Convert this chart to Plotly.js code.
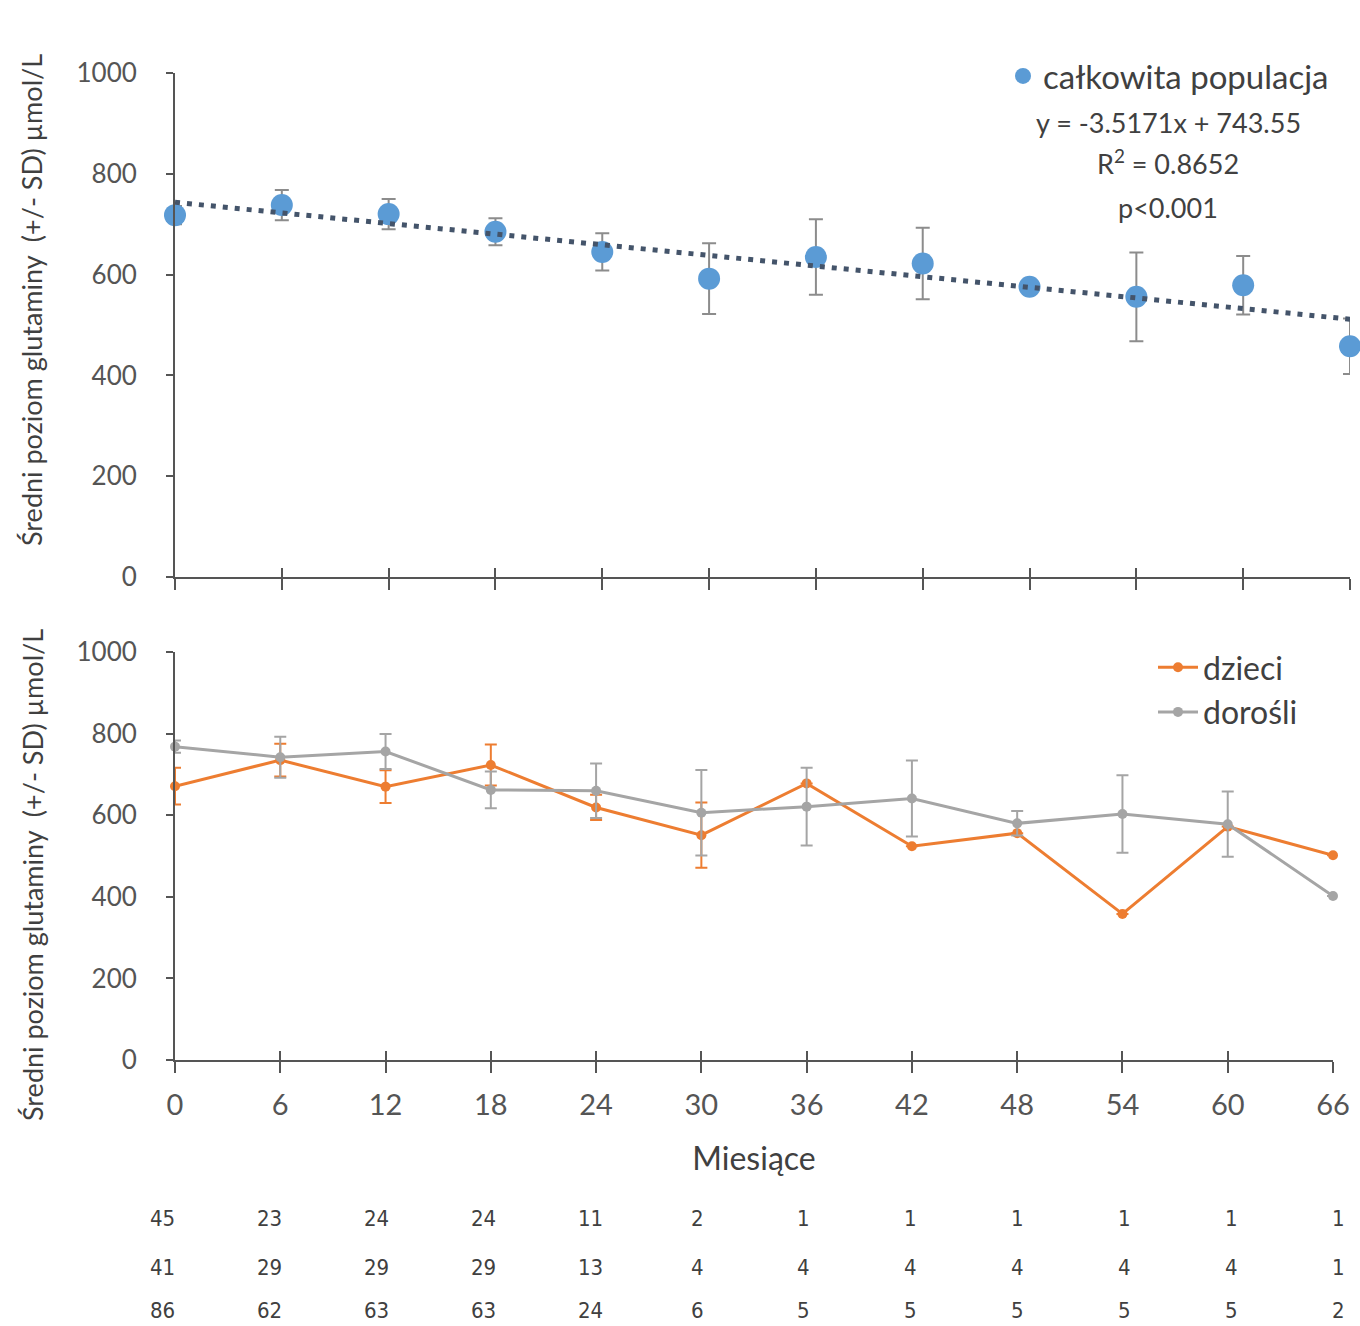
<!DOCTYPE html>
<html>
<head>
<meta charset="utf-8">
<script src="https://cdn.plot.ly/plotly-3.0.1.min.js"></script>
<style>
  html, body { margin: 0; padding: 0; background: #ffffff; }
  #chart { width: 1360px; height: 1326px; }
</style>
</head>
<body>
<div id="chart"></div>
<script>
// Months of follow-up
const months = [0, 6, 12, 18, 24, 30, 36, 42, 48, 54, 60, 66];

// Whole population: mean glutamine level and SD (µmol/L)
const totalMean = [718, 738, 720, 685, 645, 592, 635, 622, 576, 556, 579, 458];
const totalSD   = [18, 30, 30, 27, 37, 70, 75, 71, 10, 88, 58, 55];

// Children
const childMean = [671, 735, 670, 723, 619, 551, 678, 524, 556, 358, 572, 502];
const childSD   = [45, 40, 40, 50, 31, 80, 0, 0, 0, 0, 0, 0];

// Adults
const adultMean = [768, 742, 756, 662, 660, 606, 621, 641, 580, 603, 578, 402];
const adultSD   = [15, 50, 43, 45, 67, 105, 95, 93, 30, 95, 80, 0];

// Patients per time point: children, adults, total
const nChildren = [45, 23, 24, 24, 11, 2, 1, 1, 1, 1, 1, 1];
const nAdults   = [41, 29, 29, 29, 13, 4, 4, 4, 4, 4, 4, 1];
const nTotal    = [86, 62, 63, 63, 24, 6, 5, 5, 5, 5, 5, 2];

// Linear trend of the whole population
const trendSlope = -3.5171;
const trendIntercept = 743.55;
const trendLabel = ['y = -3.5171x + 743.55', 'R<sup>2</sup> = 0.8652', 'p<0.001'];

const yTitle = 'Średni poziom glutaminy  (+/- SD) µmol/L';
const xTitle = 'Miesiące';

const W = 1360, H = 1326;
const px = v => v / W;           // horizontal pixel -> paper
const py = v => 1 - v / H;       // vertical pixel (from top) -> paper

const axisCol = '#555555';
const textCol = '#404040';
const FONT = 'Lato, "Open Sans", sans-serif';

const trendX = [months[0], months[months.length - 1]];
const trendY = trendX.map(m => trendSlope * m + trendIntercept);

const traces = [
  {
    x: months, y: totalMean, type: 'scatter', mode: 'markers',
    name: 'całkowita populacja', xaxis: 'x', yaxis: 'y', legend: 'legend',
    marker: { color: '#5B9BD5', size: 22 },
    error_y: { type: 'data', array: totalSD, visible: true, color: '#8c8c8c', thickness: 2, width: 7 },
    cliponaxis: false
  },
  {
    x: trendX, y: trendY, type: 'scatter', mode: 'lines',
    xaxis: 'x', yaxis: 'y', showlegend: false, hoverinfo: 'skip',
    line: { color: '#44546A', width: 5, dash: '5px,7px' },
    cliponaxis: false
  },
  {
    x: months, y: childMean, type: 'scatter', mode: 'lines+markers',
    name: 'dzieci', xaxis: 'x2', yaxis: 'y2', legend: 'legend2',
    line: { color: '#ED7D31', width: 3 },
    marker: { color: '#ED7D31', size: 10 },
    error_y: { type: 'data', array: childSD, visible: true, color: '#ED7D31', thickness: 2, width: 6 },
    cliponaxis: false
  },
  {
    x: months, y: adultMean, type: 'scatter', mode: 'lines+markers',
    name: 'dorośli', xaxis: 'x2', yaxis: 'y2', legend: 'legend2',
    line: { color: '#A5A5A5', width: 3 },
    marker: { color: '#A5A5A5', size: 10 },
    error_y: { type: 'data', array: adultSD, visible: true, color: '#A5A5A5', thickness: 2, width: 6 },
    cliponaxis: false
  },
  // invisible helpers so the inner-tick overlay axes get drawn
  { x: [months[0]], y: [0], xaxis: 'x3', yaxis: 'y', mode: 'markers', marker: { opacity: 0 }, showlegend: false, hoverinfo: 'skip' },
  { x: [months[0]], y: [0], xaxis: 'x4', yaxis: 'y2', mode: 'markers', marker: { opacity: 0 }, showlegend: false, hoverinfo: 'skip' }
];

const topXDomain = [px(175), px(1350)];
const botXDomain = [px(175), px(1333)];

const baseX = {
  range: [0, 66], tickmode: 'array', tickvals: months, ticktext: months.map(String),
  showgrid: false, zeroline: false, showline: true, linecolor: axisCol, linewidth: 2,
  ticks: 'outside', ticklen: 11, tickwidth: 2, tickcolor: axisCol
};
const innerX = {
  range: [0, 66], tickmode: 'array', tickvals: months,
  showgrid: false, zeroline: false, showline: false, showticklabels: false,
  ticks: 'inside', ticklen: 9, tickwidth: 2, tickcolor: axisCol
};
const baseY = {
  range: [0, 1000], tickvals: [0, 200, 400, 600, 800, 1000],
  showgrid: false, zeroline: false, showline: true, linecolor: axisCol, linewidth: 2,
  ticks: 'outside', ticklen: 7, tickwidth: 2, tickcolor: axisCol,
  tickfont: { family: FONT, size: 26, color: axisCol }, ticklabelstandoff: 24
};

const annotations = [];
trendLabel.forEach((t, i) => {
  annotations.push({
    xref: 'paper', yref: 'paper', x: px(1168), y: py([122, 162, 207][i]),
    text: t, showarrow: false, xanchor: 'center', yanchor: 'middle',
    font: { family: FONT, size: 27, color: textCol }
  });
});
[[300, yTitle], [875, yTitle]].forEach(([yc, t]) => {
  annotations.push({
    xref: 'paper', yref: 'paper', x: px(32), y: py(yc), text: t, textangle: -90,
    showarrow: false, xanchor: 'center', yanchor: 'middle',
    font: { family: FONT, size: 27, color: textCol }
  });
});
[[nChildren, 1218], [nAdults, 1267], [nTotal, 1310]].forEach(([row, yPix]) => {
  row.forEach((n, i) => {
    annotations.push({
      xref: 'x', yref: 'paper', x: months[i], y: py(yPix), xshift: -12,
      text: String(n), showarrow: false, xanchor: 'center', yanchor: 'middle',
      font: { family: '"Liberation Sans Narrow", "DejaVu Sans Condensed", sans-serif', size: 22, color: textCol }
    });
  });
});

const layout = {
  width: W, height: H,
  margin: { l: 0, r: 0, t: 0, b: 0 },
  paper_bgcolor: '#ffffff', plot_bgcolor: 'rgba(0,0,0,0)',
  font: { family: FONT, color: textCol },
  showlegend: true,
  xaxis: Object.assign({}, baseX, { domain: topXDomain, anchor: 'y', showticklabels: false }),
  xaxis3: Object.assign({}, innerX, { domain: topXDomain, anchor: 'y', overlaying: 'x' }),
  yaxis: Object.assign({}, baseY, { domain: [py(577), py(73)], anchor: 'x' }),
  xaxis2: Object.assign({}, baseX, {
    domain: botXDomain, anchor: 'y2',
    tickfont: { family: FONT, size: 29, color: axisCol }, ticklabelstandoff: 7,
    title: { text: xTitle, font: { family: FONT, size: 32, color: textCol }, standoff: 28 }
  }),
  xaxis4: Object.assign({}, innerX, { domain: botXDomain, anchor: 'y2', overlaying: 'x2' }),
  yaxis2: Object.assign({}, baseY, { domain: [py(1060), py(652)], anchor: 'x2' }),
  legend: {
    x: px(1003), y: py(48), xanchor: 'left', yanchor: 'top',
    bgcolor: 'rgba(0,0,0,0)', font: { family: FONT, size: 33, color: textCol },
    itemwidth: 30, tracegroupgap: 0
  },
  legend2: {
    x: px(1153), y: py(640), xanchor: 'left', yanchor: 'top',
    bgcolor: 'rgba(0,0,0,0)', font: { family: FONT, size: 32, color: textCol },
    itemwidth: 40, tracegroupgap: 0
  },
  annotations: annotations
};

Plotly.newPlot('chart', traces, layout, { staticPlot: true, displayModeBar: false });
</script>
</body>
</html>
